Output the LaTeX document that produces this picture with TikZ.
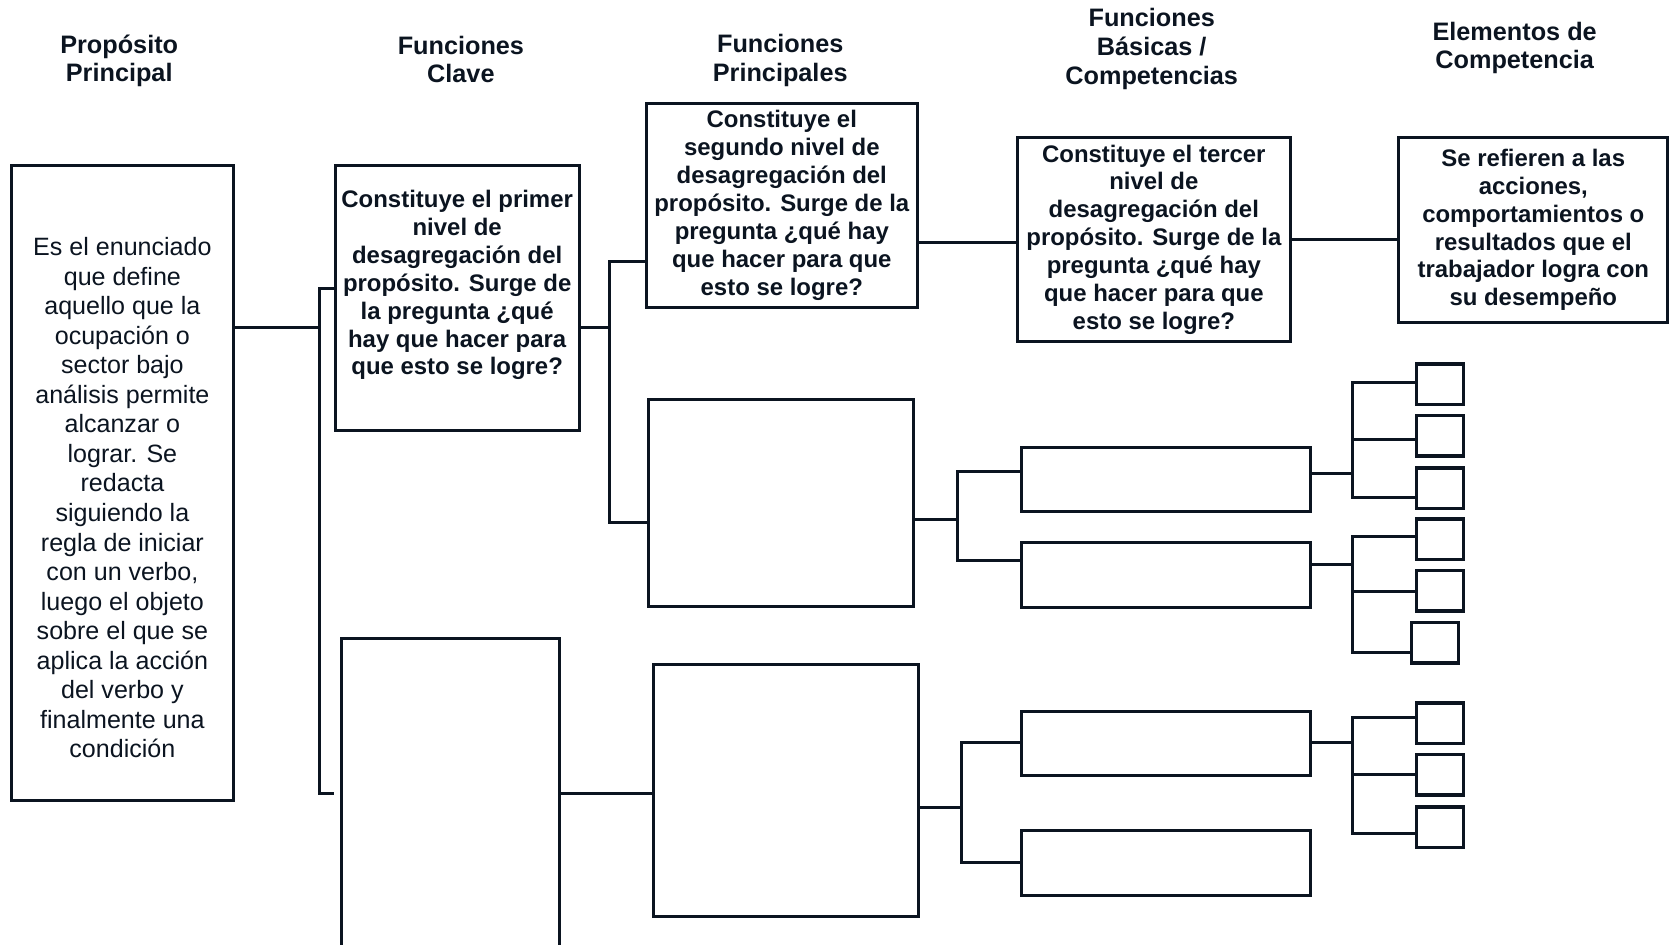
\documentclass[tikz,border=0pt]{standalone}
\usepackage{fontspec}
\setmainfont{Liberation Sans}
\usepackage{tikz}
\definecolor{ink}{HTML}{0B1420}

\begin{document}
\begin{tikzpicture}[x=0.02cm,y=-0.02cm,
  box/.style={draw=ink,line width=1.6pt,rectangle,inner sep=1pt,align=center,text=ink},
  txt/.style={font=\fontsize{12.8}{14.9}\selectfont\bfseries},
  head/.style={align=center,text=ink,font=\fontsize{13.5}{15.3}\selectfont\bfseries},
  small/.style={draw=ink,line width=1.8pt,minimum width=0.88cm,minimum height=0.76cm,inner sep=0pt},
  link/.style={draw=ink,line width=1.6pt}]
\useasboundingbox (0,0) rectangle (1568,887);

% Column headings
\node[head] (hpp) at (112,57) {Propósito\\Principal};
\node[head] (hfc) at (433,56) {Funciones\\Clave};
\node[head] (hfp) at (733,57) {Funciones\\Principales};
\node[head] (hfb) at (1082,46) {Funciones\\Básicas /\\Competencias};
\node[head] (hec) at (1423,45) {Elementos de\\Competencia};

% Purpose
\node[box,minimum width=4.16cm,minimum height=11.94cm,
  font=\fontsize{13.4}{15.8}\selectfont] (p) at (115,453.5)
  {\mbox{}\\[10pt]Es el enunciado\\que define\\aquello que la\\ocupación o\\sector bajo\\análisis permite\\alcanzar o\\lograr. Se\\redacta\\siguiendo la\\regla de iniciar\\con un verbo,\\luego el objeto\\sobre el que se\\aplica la acción\\del verbo y\\finalmente una\\condición};

% Key functions
\node[box,txt,minimum width=4.58cm,minimum height=4.98cm] (k1) at (429.5,279.5)
  {Constituye el primer\\nivel de\\desagregación del\\propósito. Surge de\\la pregunta ¿qué\\hay que hacer para\\que esto se logre?\\[1pt]\mbox{}};
\node[box,minimum width=4.10cm,minimum height=5.80cm] (k2) at (423.5,745) {};

% Main functions
\node[box,txt,minimum width=5.10cm,minimum height=3.84cm] (f1) at (734.5,193)
  {Constituye el\\segundo nivel de\\desagregación del\\propósito. Surge de la\\pregunta ¿qué hay\\que hacer para que\\esto se logre?};
\node[box,minimum width=4.98cm,minimum height=3.90cm] (f2) at (733.5,472.5) {};
\node[box,minimum width=4.98cm,minimum height=4.74cm] (f3) at (738.5,742.5) {};

% Basic functions
\node[box,txt,minimum width=5.12cm,minimum height=3.84cm] (b1) at (1084,225)
  {Constituye el tercer\\nivel de\\desagregación del\\propósito. Surge de la\\pregunta ¿qué hay\\que hacer para que\\esto se logre?};
\foreach \n/\y in {2/450.5,3/540.5,4/698.5,5/810.5}
  \node[box,minimum width=5.42cm,minimum height=1.22cm] (b\n) at (1095.5,\y) {};

% Competence elements
\node[box,txt,minimum width=5.06cm,minimum height=3.48cm] (e1) at (1440.5,216)
  {Se refieren a las\\acciones,\\comportamientos o\\resultados que el\\trabajador logra con\\su desempeño};
\foreach \n/\x/\y in {1/1353/361,2/1353/409.5,3/1353/458.5,4/1353/506.5,5/1353/555,
  6/1348/604,7/1353/679.5,8/1353/728,9/1353/777}
  \node[small] (s\n) at (\x,\y) {};

% Connectors
\coordinate (pk) at (300,308);
\draw[link] (p.east |- pk) -- (pk);
\draw[link,shorten >=0.12cm] (k1.west |- 0,271) -| (pk) |- (k2.west);

\coordinate (kf) at (573,308);
\draw[link] (k1.east |- kf) -- (kf);
\draw[link] (f1.west |- 0,246) -| (kf) |- (f2.west |- 0,491);
\draw[link] (k2.east) -- (k2.east -| f3.west);

\draw[link] (f1.east |- 0,228) -- (b1.west |- 0,228);
\draw[link] (b1.east |- 0,225) -- (e1.west |- 0,225);

\coordinate (fb2) at (900,488);
\draw[link] (f2.east |- fb2) -- (fb2);
\draw[link] (b2.west |- 0,443) -| (fb2) |- (b3.west |- 0,527);

\coordinate (fb3) at (903,759);
\draw[link] (f3.east |- fb3) -- (fb3);
\draw[link] (b4.west |- 0,698) -| (fb3) |- (b5.west |- 0,810);

\coordinate (bs2) at (1271,445);
\draw[link] (b2.east |- bs2) -- (bs2);
\draw[link] (s1.west |- 0,359) -| (bs2) |- (s3.west |- 0,467);
\draw[link] (bs2 |- 0,413) -- (s2.west |- 0,413);

\coordinate (bs3) at (1271,530);
\draw[link] (b3.east |- bs3) -- (bs3);
\draw[link] (s4.west |- 0,504) -| (bs3) |- (s6.west |- 0,613);
\draw[link] (bs3 |- 0,556) -- (s5.west |- 0,556);

\coordinate (bs4) at (1271,698);
\draw[link] (b4.east |- bs4) -- (bs4);
\draw[link] (s7.west |- 0,674) -| (bs4) |- (s9.west |- 0,783);
\draw[link] (bs4 |- 0,728) -- (s8.west |- 0,728);
\end{tikzpicture}
\end{document}
